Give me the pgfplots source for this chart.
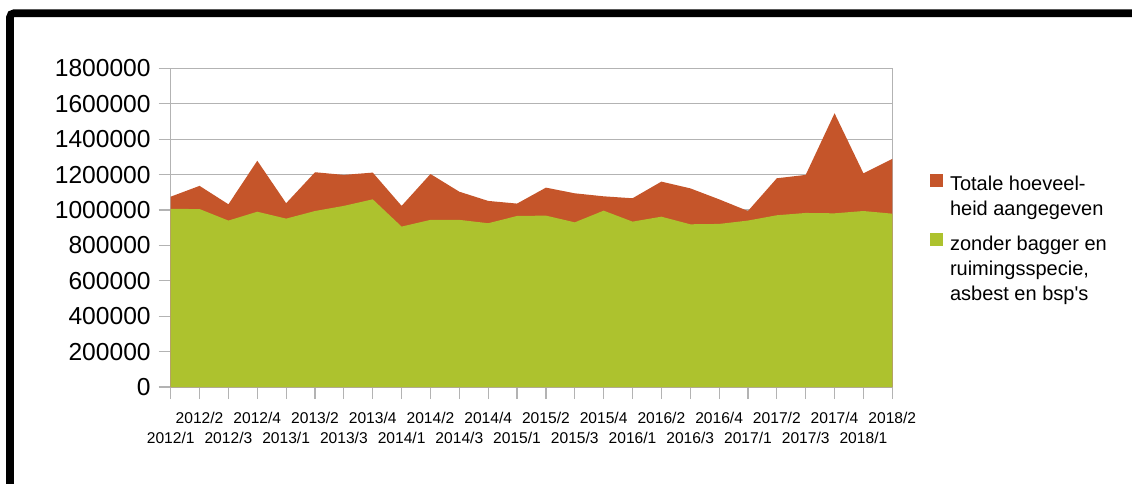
\documentclass[border=0pt]{standalone}
\usepackage{pgfplots}
\pgfplotsset{compat=1.18}
\usepackage{pgfplotstable}
\usepackage{fontspec}
\setmainfont{Liberation Sans}
\newfontfamily\plainsans{Liberation Sans}
\definecolor{cOrange}{HTML}{C5552A}
\definecolor{cGreen}{HTML}{ADC22E}
\definecolor{cGrid}{HTML}{B3B3B3}

\pgfplotstableread{
i total net
0 1075000 1006000
1 1136000 1005000
2 1032000 940000
3 1278000 990000
4 1038000 951000
5 1213000 994000
6 1198000 1023000
7 1211000 1060000
8 1023000 906000
9 1203000 944000
10 1103000 944000
11 1051000 925000
12 1036000 966000
13 1126000 968000
14 1094000 930000
15 1077000 996000
16 1066000 934000
17 1160000 962000
18 1122000 919000
19 1060000 921000
20 994000 940000
21 1179000 970000
22 1198000 983000
23 1546000 981000
24 1207000 994000
25 1288000 979000
}\datatable

\begin{document}
\begin{tikzpicture}
\path[use as bounding box] (0,0) rectangle (566pt,-241.5pt);
\draw[black, line width=3.8pt, rounded corners=2pt] (5pt,-245pt) -- (5pt,-6.6pt) -- (570pt,-6.6pt);
\begin{axis}[
  at={(85.35pt,-193.5pt)}, anchor=south west,
  scale only axis, width=360.8pt, height=159.35pt,
  xmin=0, xmax=25, ymin=0, ymax=1800000,
  ytick={0,200000,400000,600000,800000,1000000,1200000,1400000,1600000,1800000},
  scaled y ticks=false,
  yticklabel style={/pgf/number format/fixed, /pgf/number format/1000 sep={}, /pgf/number format/assume math mode=true, font=\fontsize{12.3}{14}\selectfont, xshift=-0.5pt},
  ymajorgrids, grid style={cGrid, line width=0.6pt},
  axis line style={cGrid, line width=0.6pt},
  every tick/.style={cGrid, line width=0.6pt},
  tick align=outside, major tick length=6pt,
  xtick pos=lower, ytick pos=left,
  xtick={0,2,4,6,8,10,12,14,16,18,20,22,24},
  xticklabels={2012/1,2012/3,2013/1,2013/3,2014/1,2014/3,2015/1,2015/3,2016/1,2016/3,2017/1,2017/3,2018/1},
  extra x ticks={1,3,5,7,9,11,13,15,17,19,21,23,25},
  extra x tick labels={2012/2,2012/4,2013/2,2013/4,2014/2,2014/4,2015/2,2015/4,2016/2,2016/4,2017/2,2017/4,2018/2},
  xticklabel style={font=\fontsize{7.8}{9}\selectfont, yshift=-13pt},
  extra x tick style={xticklabel style={yshift=10pt}},
  legend style={at={(1.052,0.675)}, anchor=north west, draw=none, fill=none, inner sep=0pt,
    font=\fontsize{10}{12.5}\selectfont, row sep=4.5pt, nodes={align=left},
    cells={anchor=base west}, /tikz/every odd column/.append style={column sep=1.5pt}},
]
\addplot[fill=cOrange, draw=none,
  legend image code/.code={\path (0pt,0pt); \fill[cOrange] (0pt,14.5pt) rectangle (6.4pt,20.9pt);}]
  table[x=i, y=total] {\datatable} \closedcycle;
\addlegendentry{Totale hoeveel-\\heid aangegeven}
\addplot[fill=cGreen, draw=none,
  legend image code/.code={\path (0pt,0pt); \fill[cGreen] (0pt,27pt) rectangle (6.4pt,33.4pt);}]
  table[x=i, y=net] {\datatable} \closedcycle;
\addlegendentry{zonder bagger en\\ruimingsspecie,\\asbest en bsp{\plainsans '}s}
\end{axis}
\end{tikzpicture}
\end{document}
